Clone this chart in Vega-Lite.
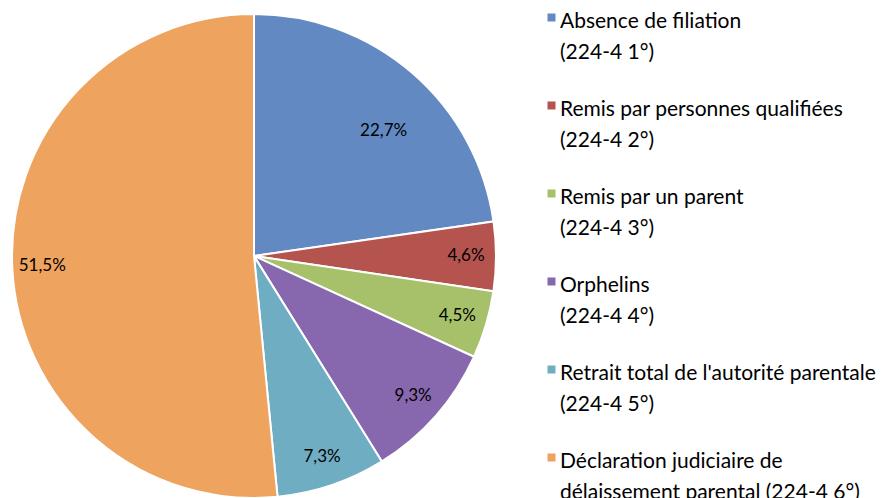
{
  "$schema": "https://vega.github.io/schema/vega-lite/v6.json",
  "width": 508,
  "height": 484,
  "padding": {"left": 0, "top": 0, "right": 0, "bottom": 0},
  "background": "white",
  "data": {"values": [
    {"cat": "Absence de filiation|(224-4 1°)", "order": 1, "value": 22.7, "label": "22,7%"},
    {"cat": "Remis par personnes qualifiées|(224-4 2°)", "order": 2, "value": 4.6, "label": "4,6%"},
    {"cat": "Remis par un parent|(224-4 3°)", "order": 3, "value": 4.5, "label": "4,5%"},
    {"cat": "Orphelins|(224-4 4°)", "order": 4, "value": 9.3, "label": "9,3%"},
    {"cat": "Retrait total de l'autorité parentale|(224-4 5°)", "order": 5, "value": 7.3, "label": "7,3%"},
    {"cat": "Déclaration judiciaire de|délaissement parental (224-4 6°)", "order": 6, "value": 51.5, "label": "51,5%"}
  ]},
  "encoding": {
    "theta": {"field": "value", "type": "quantitative", "stack": true},
    "order": {"field": "order", "type": "quantitative"}
  },
  "layer": [
    {
      "mark": {"type": "arc", "outerRadius": 242, "stroke": "white", "strokeWidth": 2},
      "encoding": {
        "color": {
          "field": "cat", "type": "nominal",
          "sort": {"field": "order"},
          "scale": {
            "domain": ["Absence de filiation|(224-4 1°)", "Remis par personnes qualifiées|(224-4 2°)", "Remis par un parent|(224-4 3°)", "Orphelins|(224-4 4°)", "Retrait total de l'autorité parentale|(224-4 5°)", "Déclaration judiciaire de|délaissement parental (224-4 6°)"],
            "range": ["#6289C2", "#B5534F", "#A7C16B", "#8767AD", "#6FADC2", "#EEA35E"]
          },
          "legend": {
            "title": null,
            "orient": "none",
            "legendX": 541,
            "legendY": -14,
            "padding": 0,
            "symbolType": "M-1,0.75H1V2.75H-1Z",
            "symbolSize": 64,
            "symbolStrokeWidth": 0,
            "labelExpr": "split(datum.label, '|')",
            "labelFont": "Lato",
            "labelFontSize": 21,
            "labelColor": "black",
            "labelLimit": 400,
            "labelOffset": -2,
            "labelBaseline": "top",
            "rowPadding": 25
          }
        }
      }
    },
    {
      "mark": {"type": "text", "radius": 212, "font": "Lato", "fontSize": 17, "color": "black"},
      "encoding": {"text": {"condition": {"test": "datum.order == 1", "value": ""}, "field": "label"}}
    },
    {
      "mark": {"type": "text", "radius": 180, "thetaOffset": 0.09, "font": "Lato", "fontSize": 17, "color": "black"},
      "encoding": {"text": {"condition": {"test": "datum.order != 1", "value": ""}, "field": "label"}}
    }
  ],
  "config": {
    "view": {"stroke": null},
    "style": {"guide-label": {"lineHeight": 31}}
  }
}
